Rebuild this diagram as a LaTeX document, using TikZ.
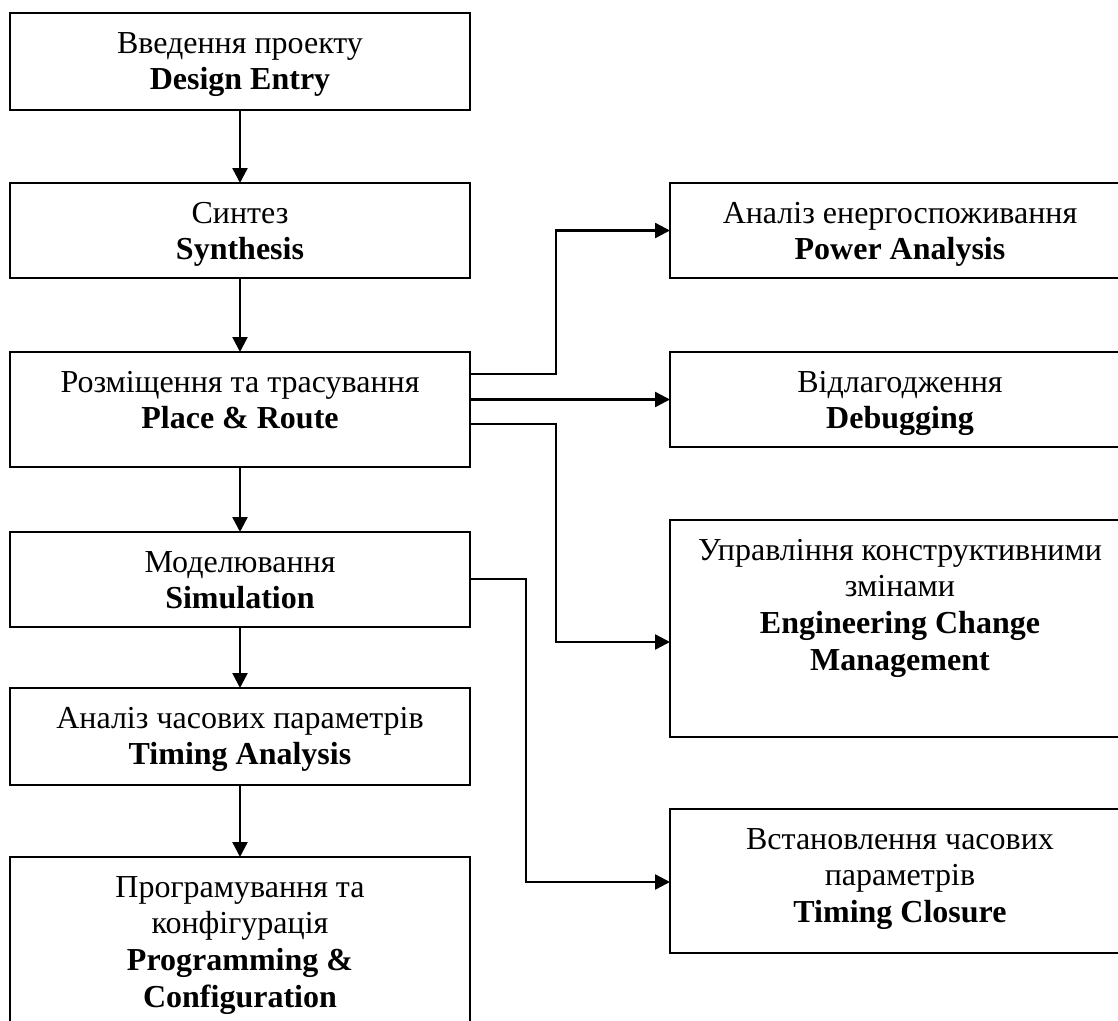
\documentclass[tikz,border=0pt]{standalone}
\usepackage{fontspec}
\setmainfont{Liberation Serif}
\usetikzlibrary{arrows.meta,calc}
\newcommand\boxtext[2]{\parbox[c][#1][t]{345pt}{\centering\fontsize{24pt}{27.6pt}\selectfont\rule{0pt}{30pt}#2}}
\begin{document}
\begin{tikzpicture}[x=0.75pt,y=-0.75pt,
  box/.style={draw, line width=1.9pt, inner sep=0pt, outer sep=0pt, anchor=north west,
    minimum width=345pt, minimum height=#1},
  conn/.style={line width=1.8pt, -{Triangle[length=11.25pt,width=11.25pt]}}]
\useasboundingbox (0,0) rectangle (1118,1021);
\clip (0,0) rectangle (1118,1021);
% left column
\node[box=72.75pt] (de) at (10,13) {\boxtext{72.75pt}{Введення проекту\\\textbf{Design Entry}}};
\node[box=71.25pt] (syn) at (10,183) {\boxtext{71.25pt}{Синтез\\\textbf{Synthesis}}};
\node[box=86.25pt] (pr) at (10,352) {\boxtext{86.25pt}{Розміщення та трасування\\\textbf{Place \& Route}}};
\node[box=71.25pt] (sim) at (10,532) {\boxtext{71.25pt}{Моделювання\\\textbf{Simulation}}};
\node[box=72.75pt] (ta) at (10,688) {\boxtext{72.75pt}{Аналіз часових параметрів\\\textbf{Timing Analysis}}};
\node[box=152.25pt] (prog) at (10,857) {\boxtext{152.25pt}{Програмування та\\конфігурація\\\textbf{Programming \&}\\\textbf{Configuration}}};
% right column
\node[box=71.25pt] (pw) at (670,183) {\boxtext{71.25pt}{Аналіз енергоспоживання\\\textbf{Power Analysis}}};
\node[box=71.25pt] (db) at (670,352) {\boxtext{71.25pt}{Відлагодження\\\textbf{Debugging}}};
\node[box=162.75pt] (ecm) at (670,520) {\boxtext{162.75pt}{Управління конструктивними\\змінами\\\textbf{Engineering Change}\\\textbf{Management}}};
\node[box=108pt] (tc) at (670,809) {\boxtext{108pt}{Встановлення часових\\параметрів\\\textbf{Timing Closure}}};
% vertical flow
\draw[conn] (de) -- (syn);
\draw[conn] (syn) -- (pr);
\draw[conn] (pr) -- (sim);
\draw[conn] (sim) -- (ta);
\draw[conn] (ta) -- (prog);
% branches
\draw[conn] ($(pr.north east)+(0,22)$) -- ++(86,0) |- (pw.west);
\draw[conn] (pr.east |- db.west) -- (db.west);
\draw[conn] ($(pr.north east)+(0,72)$) -- ++(86,0) |- ($(ecm.north west)+(0,122)$);
\draw[conn] ($(sim.north east)+(0,47)$) -- ++(56,0) |- ($(tc.north west)+(0,73)$);
\end{tikzpicture}
\end{document}
